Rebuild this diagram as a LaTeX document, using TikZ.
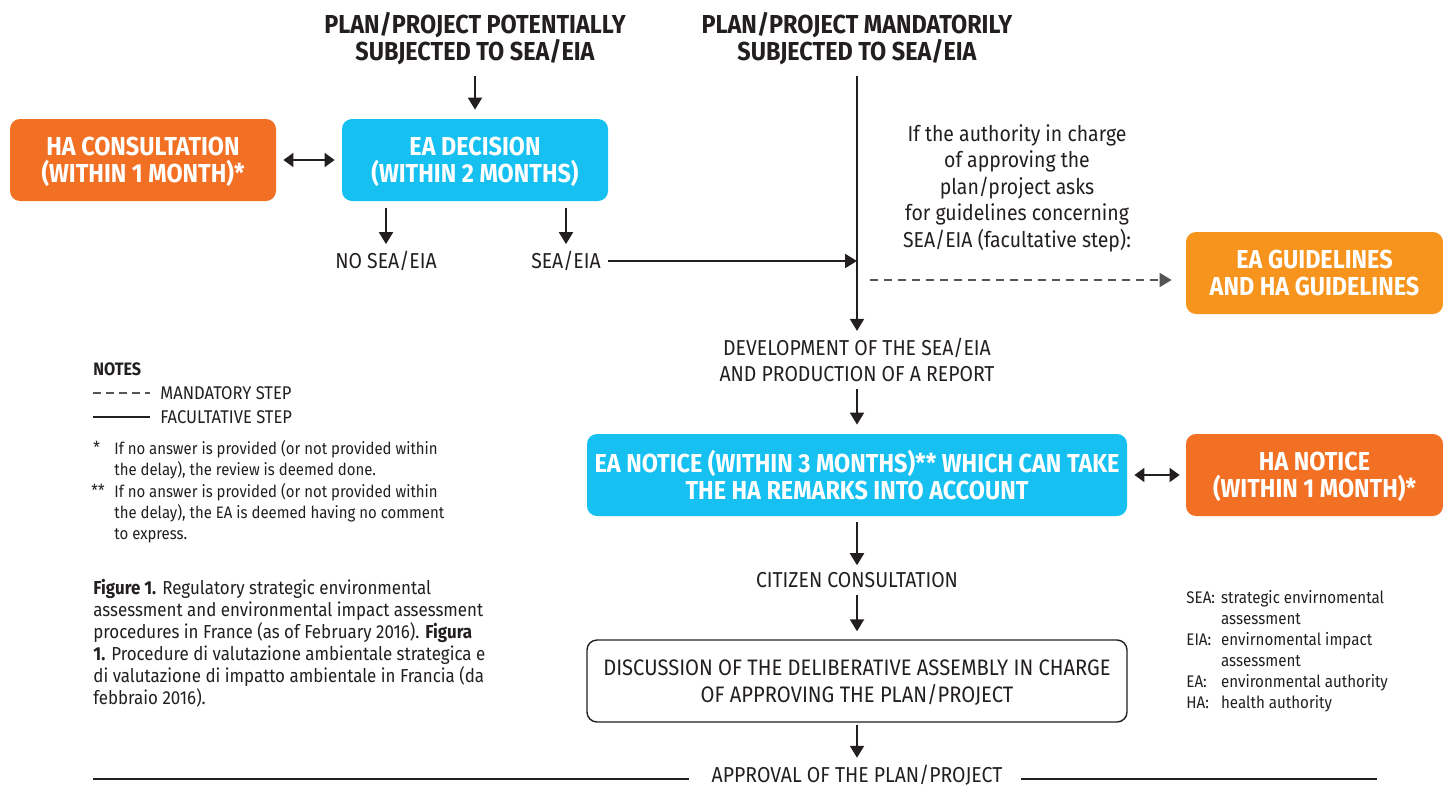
\documentclass[tikz,border=0pt]{standalone}
\usepackage{fontspec}
\setmainfont{Fira Sans}[FakeStretch=0.9]
\usetikzlibrary{arrows.meta}
\definecolor{inkc}{RGB}{35,31,32}
\definecolor{haorange}{RGB}{242,112,35}
\definecolor{guideorange}{RGB}{247,148,30}
\definecolor{eacyan}{RGB}{22,193,241}
\definecolor{dashgray}{RGB}{85,85,85}

\tikzset{
  box/.style = {rounded corners=5pt, minimum height=41pt, align=center, text=white, text depth=0pt,
                font=\fontsize{13}{13.5}\selectfont\bfseries},
  head/.style = {align=center, text=inkc, font=\fontsize{13}{13.5}\selectfont\bfseries},
  plain/.style = {align=center, text=inkc, font=\fontsize{10.8}{13.25}\selectfont},
  small/.style = {align=left, text=inkc, inner sep=0pt, font=\fontsize{8.3}{10.5}\selectfont},
  arr/.style = {draw=inkc, line width=1pt, -{Triangle[length=6pt,width=7pt]}},
  dblarr/.style = {draw=inkc, line width=1pt, {Triangle[length=5pt,width=7pt]}-{Triangle[length=5pt,width=7pt]}},
  dasharr/.style = {draw=dashgray, line width=1pt, dash pattern=on 4pt off 3pt, -{Triangle[length=6pt,width=7pt]}},
}

\begin{document}
\begin{tikzpicture}[x=0.5pt, y=-0.5pt]
\useasboundingbox (0,0) rectangle (1443,787);

% top of the procedure
\node[head] (potential) at (475,39) {PLAN/PROJECT POTENTIALLY\\SUBJECTED TO SEA/EIA};
\node[head] (mandatory) at (857,39) {PLAN/PROJECT MANDATORILY\\SUBJECTED TO SEA/EIA};

\node[box, fill=haorange, minimum width=133pt] (hacons) at (143,160) {HA CONSULTATION\\(WITHIN 1 MONTH)*};
\node[box, fill=eacyan, minimum width=133pt] (eadec) at (475,160) {EA DECISION\\(WITHIN 2 MONTHS)};

\node[plain] (nosea) at (386,261) {NO SEA/EIA};
\node[plain] (sea) at (566,261) {SEA/EIA};

\node[plain] (ifauth) at (1017,188) {If the authority in charge\\of approving the\\plan/project asks\\for guidelines concerning\\SEA/EIA (facultative step):};
\node[box, fill=guideorange, minimum width=128.5pt] (eaguide) at (1314.5,273) {EA GUIDELINES\\AND HA GUIDELINES};

% main line
\node[plain] (develop) at (857,360) {DEVELOPMENT OF THE SEA/EIA\\AND PRODUCTION OF A REPORT};
\node[box, fill=eacyan, minimum width=270pt] (eanotice) at (857,475) {EA NOTICE (WITHIN 3 MONTHS)** WHICH CAN TAKE\\THE HA REMARKS INTO ACCOUNT};
\node[box, fill=haorange, minimum width=128.5pt] (hanotice) at (1314.5,475) {HA NOTICE\\(WITHIN 1 MONTH)*};
\node[plain] (citizen) at (857,580) {CITIZEN CONSULTATION};
\node[box, draw=inkc, line width=0.7pt, text=inkc, font=\fontsize{11.2}{13.5}\selectfont, minimum width=270pt] (discuss) at (857,681)
  {DISCUSSION OF THE DELIBERATIVE ASSEMBLY IN CHARGE\\OF APPROVING THE PLAN/PROJECT};
\node[plain] (approval) at (857,775) {APPROVAL OF THE PLAN/PROJECT};

% connectors
\draw[arr, shorten <=2pt, shorten >=4.5pt] (potential) -- (eadec);
\draw[dblarr, shorten <=3.5pt, shorten >=3.5pt] (hacons) -- (eadec);
\draw[arr, shorten <=3.5pt] (nosea |- eadec.south) -- (nosea);
\draw[arr, shorten <=3.5pt] (sea |- eadec.south) -- (sea);
\draw[arr, shorten <=2pt] (mandatory) -- (develop);
\draw[arr] (sea.east) -- (sea.east -| mandatory);
\coordinate (dashstart) at (870,280);
\draw[dasharr, shorten >=7pt] (dashstart) -- (dashstart -| eaguide.west);
\draw[arr, shorten >=4.5pt] (develop) -- (eanotice);
\draw[dblarr, shorten <=3.5pt, shorten >=3pt] (eanotice) -- (hanotice);
\draw[arr, shorten <=3pt] (eanotice) -- (citizen);
\draw[arr, shorten >=4pt] (citizen) -- (discuss);
\draw[arr, shorten <=1pt] (discuss) -- (approval);
\coordinate (ruleL) at (93,779);
\coordinate (ruleR) at (1377,779);
\draw[inkc, line width=0.6pt, shorten >=8pt] (ruleL) -- (ruleL -| approval.west);
\draw[inkc, line width=0.6pt, shorten >=6pt] (ruleR) -- (ruleR -| approval.east);

% notes
\node[small, anchor=base west, font=\fontsize{9}{10.5}\selectfont\bfseries] (notes) at (93,375) {NOTES};
\coordinate (dashkey) at (93,393);
\coordinate (solidkey) at (93,417);
\draw[dashgray, line width=0.8pt, dash pattern=on 4pt off 2.5pt] (dashkey) -- ++(57,0);
\draw[inkc, line width=0.8pt] (solidkey) -- ++(57,0);
\node[small, anchor=west, font=\fontsize{9.2}{10.5}\selectfont] (mandkey) at (160,393) {MANDATORY STEP};
\node[small, anchor=west, font=\fontsize{9.2}{10.5}\selectfont] (factkey) at (160,417) {FACULTATIVE STEP};
\node[small, anchor=base west] (star) at (93,453) {*};
\node[small, anchor=north west] (startext) at (114,440) {If no answer is provided (or not provided within\\the delay), the review is deemed done.};
\node[small, anchor=base west] (dstar) at (91,496) {**};
\node[small, anchor=north west] (dstartext) at (114,483) {If no answer is provided (or not provided within\\the delay), the EA is deemed having no comment\\to express.};

% caption
\node[small, anchor=north west, font=\fontsize{9.4}{11}\selectfont] (caption) at (93,579)
  {\textbf{Figure 1.} Regulatory strategic environmental\\assessment and environmental impact assessment\\procedures in France (as of February 2016). \textbf{Figura}\\\textbf{1.} Procedure di valutazione ambientale strategica e\\di valutazione di impatto ambientale in Francia (da\\febbraio 2016).};

% abbreviations
\node[small, anchor=north west, font=\fontsize{8.4}{10.5}\selectfont] (abbrev) at (1186,588)
  {\begin{tabular}{@{}l@{\hspace{3pt}}l@{}}
   SEA: & strategic envirnomental\\ & assessment\\
   EIA: & envirnomental impact\\ & assessment\\
   EA: & environmental authority\\
   HA: & health authority
   \end{tabular}};
\end{tikzpicture}
\end{document}
